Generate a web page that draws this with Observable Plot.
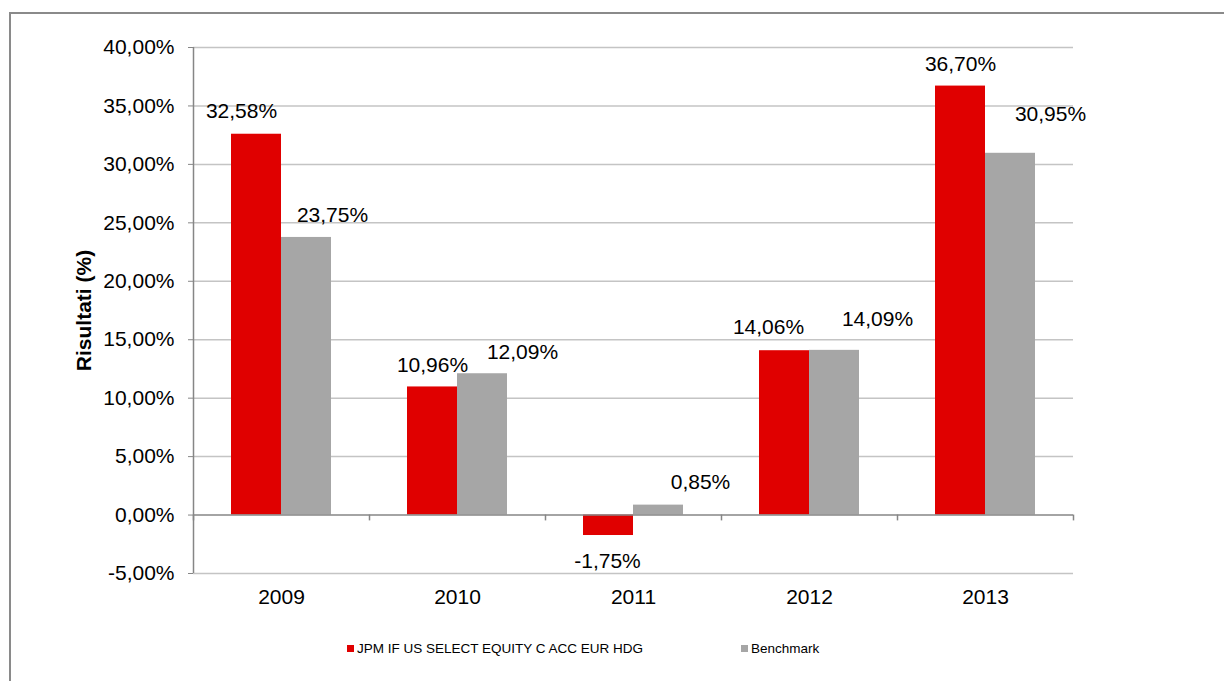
<!DOCTYPE html>
<html>
<head>
<meta charset="utf-8">
<script src="https://cdn.jsdelivr.net/npm/d3@7"></script>
<script src="https://cdn.jsdelivr.net/npm/@observablehq/plot@0.6"></script>
<style>
  html, body { margin: 0; padding: 0; background: #fff; width: 1224px; height: 681px; overflow: hidden; }
  #frame { position: absolute; left: 9px; top: 12px; width: 1400px; height: 900px; border: 2px solid #8a8a8a; box-sizing: border-box; }
  #chart { position: absolute; left: 0; top: 0; }
  .legend { position: absolute; top: 641px; font-family: "Liberation Sans", Arial, sans-serif; font-size: 13.5px; color: #000; display: flex; align-items: center; white-space: nowrap; }
  .legend .sw { width: 7px; height: 7px; margin-right: 3px; display: inline-block; }
</style>
</head>
<body>
<div id="frame"></div>
<div id="chart"></div>
<div class="legend" style="left:347px"><span class="sw" style="background:#e00000"></span>JPM IF US SELECT EQUITY C ACC EUR HDG</div>
<div class="legend" style="left:741px"><span class="sw" style="background:#a6a6a6"></span>Benchmark</div>
<script>
// ---- data ----
const years = ["2009", "2010", "2011", "2012", "2013"];
const fundValues = [32.58, 10.96, -1.75, 14.06, 36.70];
const benchValues = [23.75, 12.09, 0.85, 14.09, 30.95];
const yTicks = [-5, 0, 5, 10, 15, 20, 25, 30, 35, 40];
const seriesNames = ["JPM IF US SELECT EQUITY C ACC EUR HDG", "Benchmark"];

// label nudges (layout only, pixels)
const fundLabelDx = [-15, 0, -1, -16, 0];
const fundLabelDy = [-23, -22, 26, -23, -22];
const benchLabelDx = [26, 40, 42, 43, 40];
const benchLabelDy = [-22.5, -21, -23, -31, -39.5];

const RED = "#e00000", GRAY = "#a6a6a6", AXIS = "#868686", GRID = "#c4c4c4";

const it = d3.formatLocale({decimal: ",", thousands: ".", grouping: [3], currency: ["", "€"], minus: "-"});
const f2 = it.format(".2f");
const pct = v => f2(v) + "%";

const fund = years.map((y, i) => ({year: y, value: fundValues[i], dx: fundLabelDx[i], dy: fundLabelDy[i], series: seriesNames[0]}));
const bench = years.map((y, i) => ({year: y, value: benchValues[i], dx: benchLabelDx[i], dy: benchLabelDy[i], series: seriesNames[1]}));

const labelMarks = [];
for (const d of fund) labelMarks.push(Plot.text([d], {x: "year", y: "value", text: d => pct(d.value), dx: -25 + d.dx, dy: d.dy, fill: "#000", textAnchor: "middle", lineAnchor: "middle"}));
for (const d of bench) labelMarks.push(Plot.text([d], {x: "year", y: "value", text: d => pct(d.value), dx: 25 + d.dx, dy: d.dy, fill: "#000", textAnchor: "middle", lineAnchor: "middle"}));

const chart = Plot.plot({
  width: 1224,
  height: 620,
  marginLeft: 193,
  marginRight: 151,
  marginTop: 47,
  marginBottom: 47,
  style: {fontFamily: "'Liberation Sans', Arial, sans-serif", fontSize: "21px", background: "transparent", color: "#000", overflow: "visible"},
  x: {type: "band", domain: years, paddingInner: 0, paddingOuter: 0, axis: null},
  y: {domain: [-5, 40], axis: null},
  marks: [
    Plot.ruleY(yTicks.filter(t => t !== 0), {stroke: GRID, strokeWidth: 1.5}),
    Plot.barY(fund, {x: "year", y1: 0, y2: "value", fill: RED, insetLeft: 38, insetRight: 88}),
    Plot.barY(bench, {x: "year", y1: 0, y2: "value", fill: GRAY, insetLeft: 88, insetRight: 38}),
    Plot.ruleY([0], {stroke: AXIS, strokeWidth: 1.5}),
    Plot.ruleX(years, {x: d => d, y1: 0, y2: -0.5, dx: -88, stroke: AXIS, strokeWidth: 1.5}),
    Plot.ruleX([years[years.length - 1]], {x: d => d, y1: 0, y2: -0.5, dx: 88, stroke: AXIS, strokeWidth: 1.5}),
    Plot.ruleX([years[0]], {x: d => d, y1: -5, y2: 40, dx: -88, stroke: AXIS, strokeWidth: 1.5}),
    Plot.axisY({ticks: yTicks, tickFormat: pct, tickSize: 5, tickPadding: 14, stroke: AXIS, label: null}),
    Plot.axisX({anchor: "bottom", tickSize: 0, tickPadding: 16, label: null}),
    ...labelMarks,
    Plot.text(["Risultati (%)"], {frameAnchor: "left", text: d => d, dx: -109, rotate: -90, textAnchor: "middle", lineAnchor: "middle", fontWeight: "bold", fontSize: 21, fill: "#000"})
  ]
});
document.getElementById("chart").appendChild(chart);
</script>
</body>
</html>
